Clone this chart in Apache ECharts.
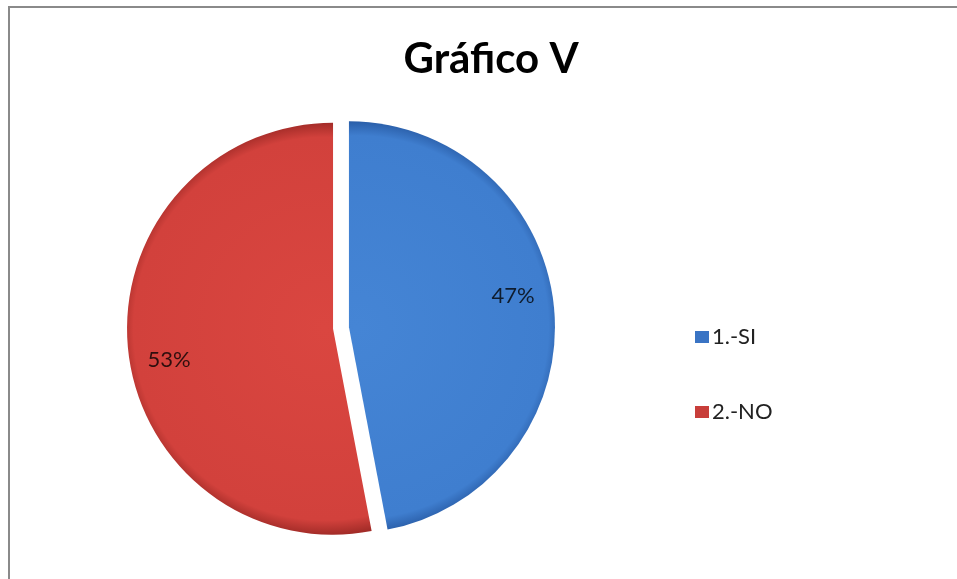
<!DOCTYPE html>
<html>
<head>
<meta charset="utf-8">
<script src="https://cdn.jsdelivr.net/npm/echarts@6/dist/echarts.min.js"></script>
<style>
  html, body { margin: 0; padding: 0; background: #fff; }
  #chart { width: 957px; height: 579px; }
</style>
</head>
<body>
<div id="chart"></div>
<script>
const categories = ['1.-SI', '2.-NO'];
const values = [47, 53];

const CENTER = [341, 328];
const RADIUS = 206;
const OFFSET = 8;

function shade(cx, inner, mid, edge) {
    return new echarts.graphic.RadialGradient(cx, CENTER[1], RADIUS, [
        {offset: 0, color: inner},
        {offset: 0.93, color: mid},
        {offset: 1, color: edge}
    ], true);
}

const styles = [
    shade(CENTER[0] + OFFSET, '#4585d5', '#3f7ecf', '#2a5ea8'),
    shade(CENTER[0] - OFFSET, '#da4640', '#d2413c', '#a32c28')
];
const legendColors = ['#3a74c4', '#c83e3a'];

const chart = echarts.init(document.getElementById('chart'));

chart.setOption({
    animation: false,
    title: {
        text: 'Gráfico V',
        left: 486,
        top: 33,
        textAlign: 'center',
        textStyle: {fontFamily: 'Lato', fontWeight: 'bold', fontSize: 42, color: '#000'}
    },
    legend: {
        orient: 'vertical',
        left: 690,
        top: 321,
        itemGap: 53,
        itemWidth: 14,
        itemHeight: 12,
        icon: 'rect',
        data: categories.map((c, i) => ({name: c, itemStyle: {color: legendColors[i]}})),
        textStyle: {fontFamily: 'Lato', fontSize: 22, color: '#222', padding: [0, 0, 0, -2]}
    },
    graphic: [
        {type: 'line', shape: {x1: 8, y1: 7, x2: 957, y2: 7}, style: {stroke: '#8a8a8a', lineWidth: 2}},
        {type: 'line', shape: {x1: 9, y1: 6, x2: 9, y2: 579}, style: {stroke: '#8a8a8a', lineWidth: 2}}
    ],
    series: [{
        type: 'pie',
        center: CENTER,
        radius: RADIUS,
        startAngle: 90,
        clockwise: true,
        selectedMode: 'multiple',
        selectedOffset: OFFSET,
        emphasis: {disabled: true},
        label: {show: false},
        labelLine: {show: false},
        data: categories.map((c, i) => ({
            name: c,
            value: values[i],
            selected: true,
            itemStyle: {color: styles[i]}
        }))
    }, {
        // transparent twin ring that only carries the percentage labels
        type: 'pie',
        center: CENTER,
        radius: [158, 170],
        startAngle: 95.2,
        clockwise: true,
        silent: true,
        selectedMode: 'multiple',
        selectedOffset: OFFSET,
        emphasis: {disabled: true},
        itemStyle: {color: 'rgba(0,0,0,0)'},
        label: {
            position: 'inside',
            formatter: '{d}%',
            fontFamily: 'Lato',
            fontSize: 22,
            color: 'rgba(0,0,0,0.78)'
        },
        labelLine: {show: false},
        data: categories.map((c, i) => ({name: c, value: values[i], selected: true}))
    }]
});
</script>
</body>
</html>
